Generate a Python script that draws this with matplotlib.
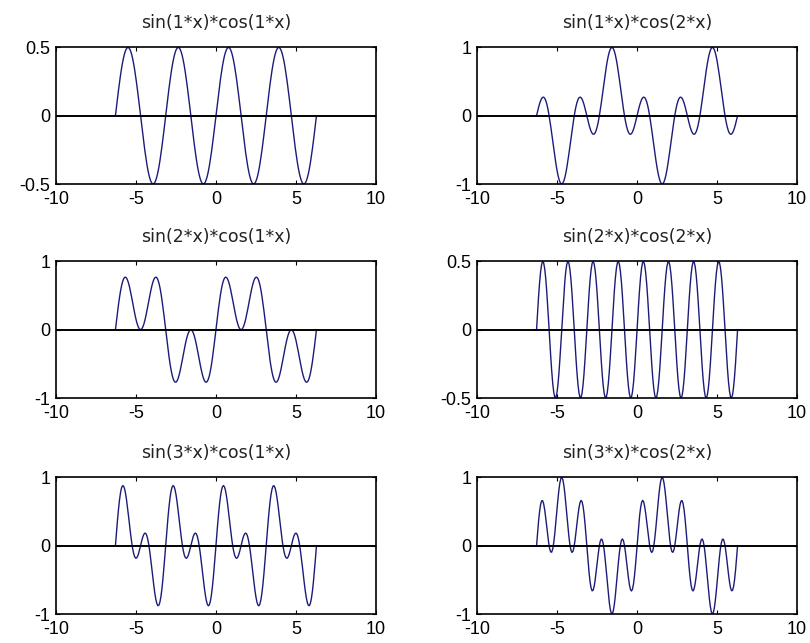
import numpy as np
import matplotlib
matplotlib.use("Agg")
import matplotlib.pyplot as plt

# Data: each panel plots sin(a*x)*cos(b*x), as stated in its title
sin_freqs = [1, 1, 2, 2, 3, 3]
cos_freqs = [1, 2, 1, 2, 1, 2]
titles = ["sin(1*x)*cos(1*x)", "sin(1*x)*cos(2*x)",
          "sin(2*x)*cos(1*x)", "sin(2*x)*cos(2*x)",
          "sin(3*x)*cos(1*x)", "sin(3*x)*cos(2*x)"]
x_ticks = [-10, -5, 0, 5, 10]
y_limits = [0.5, 1, 1, 0.5, 1, 1]

x = np.linspace(-2 * np.pi, 2 * np.pi, 200)

plt.rcParams['font.family'] = ['Liberation Sans', 'DejaVu Sans']

fig = plt.figure(figsize=(8.1, 6.43), dpi=100)
fig.patch.set_facecolor('white')

lefts = [0.0691, 0.589]
bottoms = [0.7138, 0.381, 0.0451]
w, h = 0.395, 0.2125

for i in range(6):
    r, c = divmod(i, 2)
    ax = fig.add_axes([lefts[c], bottoms[r], w, h])
    y = np.sin(sin_freqs[i] * x) * np.cos(cos_freqs[i] * x)
    ax.plot(x, y, color='#1c1c78', lw=1.0)
    ax.axhline(0, color='black', lw=1.4)
    lim = y_limits[i]
    ax.set_xlim(-10, 10)
    ax.set_ylim(-lim, lim)
    ax.set_xticks(x_ticks)
    ax.set_xticklabels([str(t) for t in x_ticks])
    yt = [-lim, 0, lim]
    ax.set_yticks(yt)
    ax.set_yticklabels(['-0.5', '0', '0.5'] if lim == 0.5 else ['-1', '0', '1'])
    ax.tick_params(direction='in', length=3, width=0.8, top=True, right=True,
                   labelsize=13, colors='black')
    ax.tick_params(axis='x', pad=5)
    ax.tick_params(axis='y', pad=4)
    for s in ax.spines.values():
        s.set_linewidth(1.2)
        s.set_color('black')
    ax.set_title(titles[i], fontsize=12.5, pad=14, color='#222222',
                 family=['DejaVu Sans'])

fig.savefig('out.png', dpi=100, facecolor='white')
